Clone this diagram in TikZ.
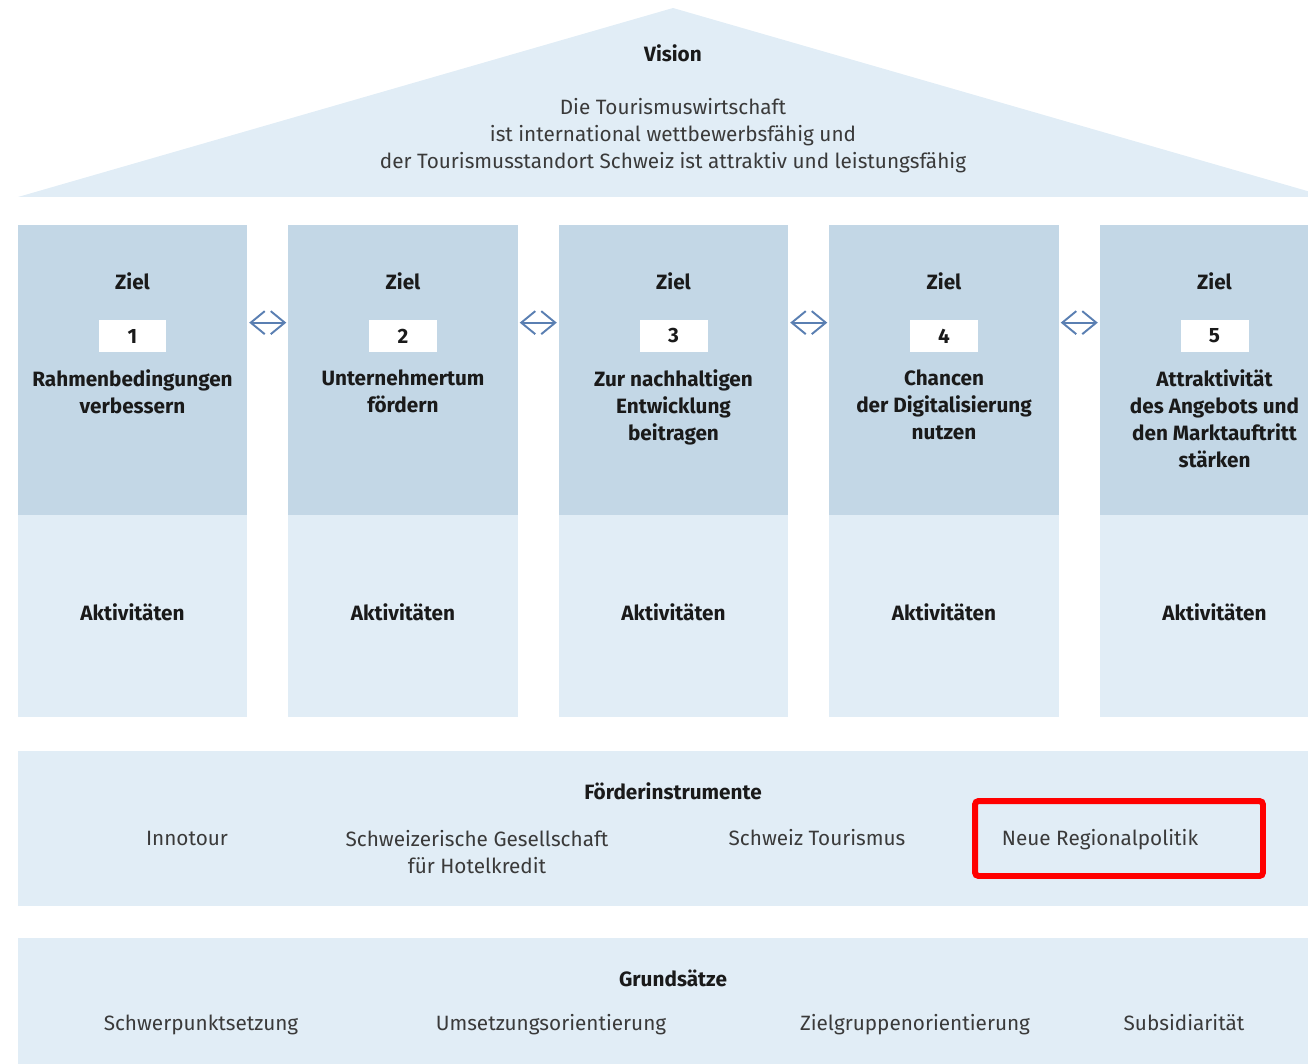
\documentclass[tikz,border=0pt]{standalone}
\usepackage{fontspec}
\setmainfont{Fira Sans}
\usetikzlibrary{arrows.meta, positioning, calc}
\definecolor{roofblue}{HTML}{E1EDF6}
\definecolor{pillarblue}{HTML}{C3D7E6}
\definecolor{arrowblue}{HTML}{5A7FB2}
\definecolor{markred}{HTML}{FF0000}
\definecolor{textdark}{HTML}{1A1A1A}
\definecolor{textgray}{HTML}{3A3A3A}
\tikzset{
  font=\fontsize{11.8}{15.4}\selectfont,
  pillar/.style={
    rectangle, fill=#1, draw=none, inner sep=0pt, outer sep=0pt,
    minimum width=4.6cm
  },
  pillar/.default=pillarblue,
  band/.style={
    rectangle, fill=roofblue, draw=none, inner sep=0pt, outer sep=0pt,
    minimum width=26.2cm
  },
  numbox/.style={
    fill=white, inner sep=0pt, minimum width=1.36cm, minimum height=0.64cm,
    font=\fontsize{11.8}{15.4}\selectfont\bfseries, text=textdark
  },
  headtxt/.style={font=\fontsize{11.8}{15.4}\selectfont\bfseries, text=textdark, align=center, inner sep=0pt},
  bodytxt/.style={text=textgray, align=center, inner sep=0pt},
  biarr/.style={
    {Straight Barb[length=2.8mm, width=4.6mm]}-{Straight Barb[length=2.8mm, width=4.6mm]},
    draw=arrowblue, line width=1.1pt, shorten <=1pt, shorten >=1pt
  },
  markbox/.style={
    draw=markred, line width=3.4pt, rounded corners=2pt, fill=none,
    minimum width=5.76cm, minimum height=1.5cm
  }
}

\begin{document}
\begin{tikzpicture}[x=0.02cm, y=-0.02cm]
  \clip (0,0) rectangle (1308,1064);

  % roof
  \fill[roofblue] (18,197) -- (673,8) -- (1328,197) -- cycle;
  \node[headtxt, anchor=base] (vision) at (673,62) {Vision};
  \node[bodytxt, anchor=north] (visiontxt) at (673,98)
    {Die Tourismuswirtschaft\\ist international wettbewerbsfähig und\\der Tourismusstandort Schweiz ist attraktiv und leistungsfähig};

  % pillars
  \foreach \i/\titel in {1/{Rahmenbedingungen\\verbessern},
                         2/{Unternehmertum\\fördern},
                         3/{Zur nachhaltigen\\Entwicklung\\beitragen},
                         4/{Chancen\\der Digitalisierung\\nutzen},
                         5/{Attraktivität\\des Angebots und\\den Marktauftritt\\stärken}} {
    \pgfmathsetmacro{\cx}{132.5+270.5*(\i-1)}
    \node[pillar, minimum height=5.8cm] (ziel\i) at (\cx,370) {};
    \node[pillar=roofblue, minimum height=4.04cm, below=0pt of ziel\i] (akt\i) {};
    \node[headtxt, anchor=base] (zlab\i) at (\cx,289) {Ziel};
    \node[numbox] (num\i) at (\cx,336) {\i};
    \node[headtxt, anchor=north] (ztxt\i) at (\cx,369) {\titel};
    \node[headtxt, anchor=base] (atxt\i) at (\cx,620) {Aktivitäten};
  }
  \foreach \i/\j in {1/2, 2/3, 3/4, 4/5}
    \draw[biarr] ([yshift=-0.06cm]ziel\i.east |- num\i.north) -- ([yshift=-0.06cm]ziel\j.west |- num\j.north);

  % Foerderinstrumente
  \node[band, minimum height=3.1cm] (foerder) at (673,828.5) {};
  \node[headtxt, anchor=base] (ftitle) at (673,799) {Förderinstrumente};
  \node[bodytxt, anchor=base] (innotour) at (187,845) {Innotour};
  \node[bodytxt, anchor=north] (sgh) at (477,830) {Schweizerische Gesellschaft\\für Hotelkredit};
  \node[bodytxt, anchor=base] (stour) at (817,845) {Schweiz Tourismus};
  \node[bodytxt, anchor=base] (nrp) at (1100,845) {Neue Regionalpolitik};
  \node[markbox] (mark) at (1119,838.5) {};

  % Grundsaetze
  \node[band, minimum height=3cm] (grund) at (673,1013) {};
  \node[headtxt, anchor=base] (gtitle) at (673,986) {Grundsätze};
  \node[bodytxt, anchor=base] (g1) at (201,1030) {Schwerpunktsetzung};
  \node[bodytxt, anchor=base] (g2) at (551,1030) {Umsetzungsorientierung};
  \node[bodytxt, anchor=base] (g3) at (915,1030) {Zielgruppenorientierung};
  \node[bodytxt, anchor=base] (g4) at (1184,1030) {Subsidiarität};
\end{tikzpicture}
\end{document}
